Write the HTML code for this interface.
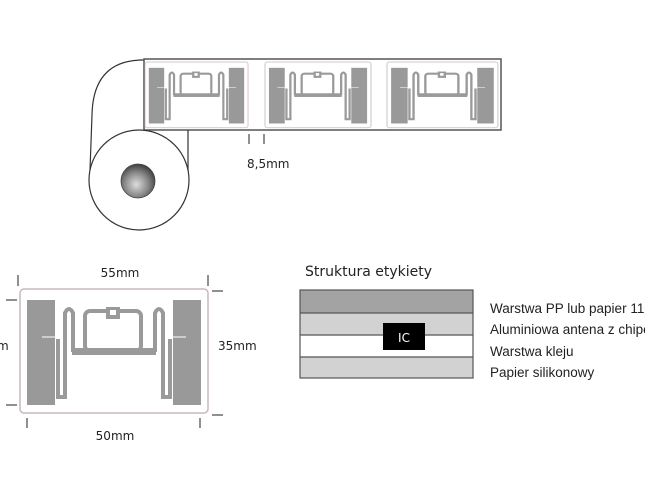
<!DOCTYPE html>
<html><head><meta charset="utf-8"><style>
html,body{margin:0;padding:0;background:#fff;}
svg{display:block;}
text{font-family:"DejaVu Sans","Liberation Sans",sans-serif;fill:#222;}
text.l{font-family:"Liberation Sans",sans-serif;font-size:13.5px;}
</style></head><body>
<svg width="645" height="500" viewBox="0 0 645 500" xmlns="http://www.w3.org/2000/svg">
<defs>
<radialGradient id="hole" cx="0.45" cy="0.6" r="0.7">
<stop offset="0" stop-color="#ddd"/><stop offset="0.5" stop-color="#888"/><stop offset="1" stop-color="#222"/>
</radialGradient>
<g id="ant">
<rect x="0" y="0" width="188" height="124" rx="4" fill="#fff" stroke="#c9b9bd" stroke-width="1.5"/>
<rect x="7" y="11" width="28" height="105" fill="#999"/>
<rect x="153" y="11" width="28" height="105" fill="#999"/>
<line x1="22" y1="48" x2="38" y2="48" stroke="#fff" stroke-width="1"/>
<line x1="150" y1="48" x2="166" y2="48" stroke="#fff" stroke-width="1"/>
<g fill="none" stroke="#9a9a9a" stroke-width="4">
<rect x="65" y="22" width="56" height="40" rx="5"/>
<path d="M53 63 L53 24 Q49 16 45 24 L45 108 L38 108 L38 50"/>
<path d="M135 63 L135 24 Q139 16 143 24 L143 108 L150 108 L150 50"/>
</g>
<rect x="52" y="59" width="84" height="7" fill="#9a9a9a"/>
<rect x="86" y="18" width="14" height="12" fill="#9a9a9a"/>
<rect x="90" y="21" width="6" height="5" fill="#fff"/>
</g>
</defs>
<path d="M146 60 L140 60 Q93 62 92 115 L90 170" fill="none" stroke="#333" stroke-width="1.2"/>
<rect x="144" y="59" width="357" height="71" fill="#fff" stroke="#555" stroke-width="1.5"/>
<line x1="188" y1="130" x2="188" y2="180" stroke="#333" stroke-width="1.2"/>
<circle cx="139" cy="180" r="50" fill="#fff" stroke="#333" stroke-width="1.2"/>
<circle cx="138" cy="181" r="17" fill="url(#hole)" stroke="#444" stroke-width="0.8"/>
<use href="#ant" transform="translate(145,62) scale(0.548,0.53)"/>
<use href="#ant" transform="translate(265,62) scale(0.564,0.53)"/>
<use href="#ant" transform="translate(387,62) scale(0.59,0.53)"/>
<line x1="249" y1="134" x2="249" y2="144" stroke="#222"/>
<line x1="264" y1="134" x2="264" y2="144" stroke="#222"/>
<text x="247" y="168" font-size="12">8,5mm</text>
<use href="#ant" transform="translate(20,289)"/>
<line x1="18" y1="275" x2="18" y2="286" stroke="#222"/>
<line x1="208" y1="275" x2="208" y2="286" stroke="#222"/>
<text x="120" y="277" font-size="12" text-anchor="middle">55mm</text>
<line x1="212" y1="291" x2="223" y2="291" stroke="#222"/>
<line x1="212" y1="415" x2="223" y2="415" stroke="#222"/>
<text x="218" y="350" font-size="12">35mm</text>
<line x1="6" y1="300" x2="17" y2="300" stroke="#222"/>
<line x1="6" y1="405" x2="17" y2="405" stroke="#222"/>
<text x="-3" y="350" font-size="12">m</text>
<line x1="27" y1="418" x2="27" y2="428" stroke="#222"/>
<line x1="200" y1="418" x2="200" y2="428" stroke="#222"/>
<text x="115" y="440" font-size="12" text-anchor="middle">50mm</text>
<text x="305" y="276" font-size="14">Struktura etykiety</text>
<rect x="300" y="290" width="173" height="23" fill="#a3a3a3"/>
<rect x="300" y="313" width="173" height="22" fill="#d2d2d2"/>
<rect x="300" y="335" width="173" height="22" fill="#fff"/>
<rect x="300" y="357" width="173" height="21" fill="#d2d2d2"/>
<g stroke="#555" stroke-width="1.2" fill="none">
<rect x="300" y="290" width="173" height="88"/>
<line x1="300" y1="313" x2="473" y2="313"/>
<line x1="300" y1="335" x2="473" y2="335"/>
<line x1="300" y1="357" x2="473" y2="357"/>
</g>
<rect x="383" y="323" width="42" height="27" fill="#000"/>
<text x="404" y="342" font-size="12" text-anchor="middle" style="fill:#fff">IC</text>
<text class="l" x="490" y="313">Warstwa PP lub papier 110</text>
<text class="l" x="490" y="334">Aluminiowa antena z chipem</text>
<text class="l" x="490" y="356">Warstwa kleju</text>
<text class="l" x="490" y="377">Papier silikonowy</text>
</svg>
</body></html>
